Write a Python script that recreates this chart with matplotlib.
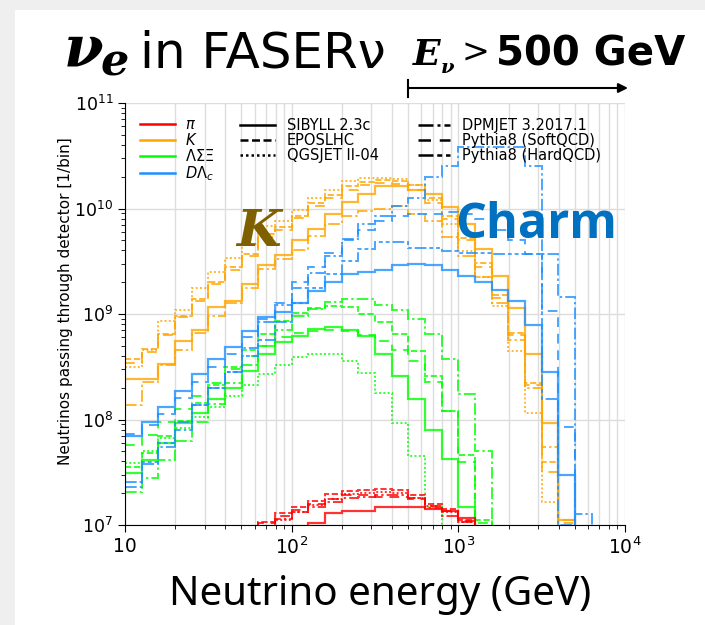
import numpy as np
import matplotlib
matplotlib.use("Agg")
import matplotlib.pyplot as plt
from matplotlib.lines import Line2D
from matplotlib.patches import Rectangle

nan = np.nan
# ---- data: log10(neutrinos per bin), 10 log-bins per decade from 10 GeV to 10 TeV ----
bin_edges = np.logspace(1, 4, 31)

K_sibyll = [8.38, 8.38, 8.53, 8.74, 8.85, 9.07, 9.12, 9.28, 9.46, 9.56, 9.70, 9.81, 9.95, 10.06, 10.14,
            10.21, 10.21, 10.18, 10.14, 10.01, 9.85, 9.62, 9.36, 9.06, 8.62, 7.97, 7.05, nan, nan, nan]
K_epos = [8.57, 8.67, 8.81, 8.98, 9.14, 9.30, 9.45, 9.57, 9.76, 9.82, 9.93, 10.05, 10.13, 10.21, 10.25,
          10.27, 10.26, 10.22, 10.10, 9.93, 9.72, 9.48, 9.18, 8.82, 8.35, 7.60, nan, nan, nan, nan]
K_qgsjet = [8.50, 8.66, 8.93, 9.04, 9.25, 9.40, 9.53, 9.66, 9.83, 9.88, 9.99, 10.10, 10.18, 10.26, 10.29,
            10.29, 10.28, 10.22, 10.08, 9.85, 9.60, 9.35, 9.08, 8.65, 8.06, 7.22, nan, nan, nan, nan]
K_dpmjet = [8.14, 8.36, 8.52, 8.66, 8.82, 8.98, 9.10, 9.25, 9.43, 9.52, 9.61, 9.74, 9.85, 9.93, 9.98,
            10.00, 10.02, 9.95, 9.88, 9.73, 9.55, 9.35, 9.10, 8.75, 8.30, 7.74, 7.05, nan, nan, nan]
K_pysoft = [8.54, 8.64, 8.80, 8.97, 9.12, 9.28, 9.42, 9.55, 9.73, 9.80, 9.91, 10.02, 10.10, 10.18, 10.22,
            10.24, 10.23, 10.18, 10.05, 9.90, 9.70, 9.45, 9.15, 8.80, 8.33, 7.50, 7.02, nan, nan, nan]

D_sibyll = [7.84, 7.98, 8.12, 8.27, 8.43, 8.57, 8.69, 8.84, 8.97, 9.02, 9.10, 9.22, 9.30, 9.38, 9.40,
            9.42, 9.46, 9.47, 9.46, 9.42, 9.36, 9.30, 9.23, 9.12, 8.90, 8.45, 7.47, nan, nan, nan]
D_dpmjet = [7.36, 7.58, 7.74, 7.90, 8.14, 8.30, 8.45, 8.68, 8.92, 9.09, 9.25, 9.39, 9.55, 9.71, 9.85,
            9.93, 10.02, 10.10, 10.30, 10.40, 10.58, 10.58, 10.58, 10.58, 10.40, 9.57, 9.16, 7.10, nan, nan]
D_pysoft = [7.86, 7.95, 8.05, 8.20, 8.36, 8.50, 8.62, 8.78, 8.95, 9.10, 9.30, 9.45, 9.58, 9.70, 9.80,
            9.88, 9.93, 9.95, 9.95, 9.97, 9.95, 9.90, 9.80, 9.70, 9.57, 9.03, 7.93, nan, nan, nan]
D_pyhard = [7.41, 7.60, 7.78, 7.98, 8.14, 8.30, 8.45, 8.60, 8.75, 8.92, 9.10, 9.25, 9.38, 9.50, 9.62,
            9.68, 9.68, 9.63, 9.63, 9.60, 9.58, 9.58, 9.57, 9.57, 9.57, 8.19, 7.00, nan, nan, nan]

L_sibyll = [7.49, 7.62, 7.78, 7.97, 8.06, 8.19, 8.30, 8.46, 8.62, 8.73, 8.79, 8.86, 8.88, 8.85, 8.79,
            8.62, 8.41, 8.19, 7.90, 7.63, 7.17, nan, nan, nan, nan, nan, nan, nan, nan, nan]
L_epos = [7.55, 7.68, 7.84, 7.99, 8.16, 8.33, 8.50, 8.66, 8.81, 8.93, 9.01, 9.06, 9.08, 9.07, 9.00,
          8.92, 8.81, 8.65, 8.41, 8.08, 7.66, 7.05, nan, nan, nan, nan, nan, nan, nan, nan]
L_qgsjet = [7.59, 7.70, 7.82, 7.92, 8.02, 8.12, 8.22, 8.33, 8.43, 8.52, 8.59, 8.62, 8.62, 8.55, 8.44,
            8.25, 7.97, 7.65, 7.17, nan, nan, nan, nan, nan, nan, nan, nan, nan, nan, nan]
L_dpmjet = [7.31, 7.45, 7.62, 7.80, 7.98, 8.15, 8.35, 8.52, 8.70, 8.85, 8.98, 9.05, 9.11, 9.14, 9.14,
            9.09, 9.04, 8.95, 8.81, 8.57, 8.24, 7.70, nan, nan, nan, nan, nan, nan, nan, nan]
L_pysoft = [7.76, 7.85, 7.98, 8.10, 8.22, 8.35, 8.48, 8.60, 8.70, 8.78, 8.82, 8.84, 8.85, 8.84, 8.80,
            8.74, 8.66, 8.55, 8.36, 8.08, 7.60, 7.02, nan, nan, nan, nan, nan, nan, nan, nan]

pi_sibyll = [nan] * 11 + [7.02, 7.11, 7.13, 7.13, 7.17, 7.17, 7.17, 7.15, 7.13, 7.07] + [nan] * 9
pi_epos = [nan] * 8 + [7.03, 7.11, 7.17, 7.23, 7.29, 7.32, 7.33, 7.34, 7.33, 7.28, 7.20, 7.15, 7.05] + [nan] * 9
pi_qgsjet = [nan] * 9 + [7.05, 7.12, 7.19, 7.25, 7.29, 7.30, 7.31, 7.30, 7.26, 7.18, 7.12, 7.03] + [nan] * 9
pi_dpmjet = [nan] * 9 + [7.06, 7.12, 7.17, 7.22, 7.26, 7.27, 7.28, 7.28, 7.26, 7.16, 7.09, 7.03] + [nan] * 9
pi_pysoft = [nan] * 8 + [7.02, 7.09, 7.14, 7.20, 7.25, 7.28, 7.28, 7.27, 7.27, 7.25, 7.18, 7.13, 7.04] + [nan] * 9

particle_labels = [r"$\pi$", r"$K$", r"$\Lambda\Sigma\Xi$", r"$D\Lambda_c$"]
generator_labels = ["SIBYLL 2.3c", "EPOSLHC", "QGSJET II-04",
                    "DPMJET 3.2017.1", "Pythia8 (SoftQCD)", "Pythia8 (HardQCD)"]

colors = {"pi": "red", "K": "orange", "L": "lime", "D": "dodgerblue"}
styles = {
    "sibyll": "-",
    "epos": (0, (3.2, 1.4)),
    "qgsjet": (0, (1, 1.2)),
    "dpmjet": (0, (6, 1.6, 1.2, 1.6)),
    "pysoft": (0, (5, 3.5)),
    "pyhard": (0, (6, 1.5, 2, 1.5, 2, 1.5)),
}
series = [
    ("K", "sibyll", K_sibyll), ("K", "epos", K_epos), ("K", "qgsjet", K_qgsjet),
    ("K", "dpmjet", K_dpmjet), ("K", "pysoft", K_pysoft),
    ("L", "sibyll", L_sibyll), ("L", "epos", L_epos), ("L", "qgsjet", L_qgsjet),
    ("L", "dpmjet", L_dpmjet), ("L", "pysoft", L_pysoft),
    ("D", "sibyll", D_sibyll), ("D", "dpmjet", D_dpmjet), ("D", "pysoft", D_pysoft),
    ("D", "pyhard", D_pyhard),
    ("pi", "sibyll", pi_sibyll), ("pi", "epos", pi_epos), ("pi", "qgsjet", pi_qgsjet),
    ("pi", "dpmjet", pi_dpmjet), ("pi", "pysoft", pi_pysoft),
]

W, H = 705, 625
fig = plt.figure(figsize=(W / 100, H / 100), dpi=100)
fig.patch.set_facecolor("white")
fig.add_artist(Rectangle((0, 0), 15 / W, 1, transform=fig.transFigure, color="#efefef", lw=0, zorder=-5))
fig.add_artist(Rectangle((0, 1 - 10 / H), 1, 10 / H, transform=fig.transFigure, color="#efefef", lw=0, zorder=-5))


def fx(x):
    return x / W


def fy(y):
    return 1 - y / H


ax = fig.add_axes([125 / W, 1 - 525 / H, 500 / W, 422 / H])
ax.set_xscale("log")
ax.set_yscale("log")
ax.set_xlim(10, 1e4)
ax.set_ylim(1e7, 1e11)
ax.grid(True, which="major", axis="both", color="#dddddd", lw=1)
ax.grid(True, which="minor", axis="x", color="#dddddd", lw=1)
ax.set_axisbelow(True)

for part, gen, vals in series:
    v = 10 ** np.array(vals, dtype=float)
    v = np.where(np.isnan(v), 1e5, v)
    lw = 1.6 if gen == "sibyll" else 1.4
    ax.stairs(v, bin_edges, baseline=None, color=colors[part], ls=styles[gen], lw=lw, alpha=0.8)

for s in ["top", "right"]:
    ax.spines[s].set_visible(False)
ax.tick_params(axis="y", which="major", labelsize=12.5, length=5)
ax.tick_params(axis="x", which="major", labelsize=13.5, length=5)
ax.tick_params(axis="both", which="minor", length=3)
ax.set_xticks([10, 100, 1000, 10000])
ax.set_xticklabels(["10", "$10^2$", "$10^3$", "$10^4$"])
ax.set_ylabel("Neutrinos passing through detector [1/bin]", fontsize=11, labelpad=6)
ax.yaxis.set_label_coords(-0.104, 0.53)

# legends (three columns)
leg_kw = dict(loc="upper left", bbox_transform=fig.transFigure, frameon=False, fontsize=10.5,
              borderpad=0, borderaxespad=0, labelspacing=0.0)
h1 = [Line2D([], [], color=colors[p], lw=1.8) for p in ["pi", "K", "L", "D"]]
leg1 = ax.legend(h1, particle_labels, bbox_to_anchor=(fx(140), fy(117)), handlelength=2.4,
                 handletextpad=0.7, **leg_kw)
ax.add_artist(leg1)
h2 = [Line2D([], [], color="k", lw=1.8, ls=styles[g]) for g in ["sibyll", "epos", "qgsjet"]]
leg2 = ax.legend(h2, generator_labels[:3], bbox_to_anchor=(fx(240), fy(118)), handlelength=2.4,
                 handletextpad=0.8, **leg_kw)
ax.add_artist(leg2)
h3 = [Line2D([], [], color="k", lw=1.8, ls=styles[g]) for g in ["dpmjet", "pysoft", "pyhard"]]
ax.legend(h3, generator_labels[3:], bbox_to_anchor=(fx(418), fy(118)), handlelength=2.2,
          handletextpad=0.8, **leg_kw)

# title pieces
fig.text(fx(64), fy(66), "ν", fontfamily="DejaVu Serif", fontweight="bold", fontstyle="italic",
         fontsize=41, va="baseline", ha="left")
fig.text(fx(101), fy(76), "e", fontfamily="DejaVu Serif", fontweight="bold", fontstyle="italic",
         fontsize=32, va="baseline", ha="left")
fig.text(fx(140), fy(68), "in FASERν", fontfamily="DejaVu Sans", fontsize=36, va="baseline", ha="left")
fig.text(fx(413), fy(65), "E", fontfamily="DejaVu Serif", fontweight="bold", fontstyle="italic",
         fontsize=26, va="baseline", ha="left")
fig.text(fx(441), fy(73), "ν", fontfamily="DejaVu Serif", fontweight="bold", fontstyle="italic",
         fontsize=14, va="baseline", ha="left")
fig.text(fx(462), fy(63), ">", fontfamily="DejaVu Serif", fontsize=24, va="baseline", ha="left")
fig.text(fx(496), fy(65), "500 GeV", fontfamily="DejaVu Sans", fontweight="bold", fontsize=29,
         va="baseline", ha="left")
fig.add_artist(Line2D([fx(408), fx(408)], [fy(80), fy(97)], transform=fig.transFigure, color="k", lw=1.5))
ax.annotate("", xy=(628, H - 88), xytext=(408, H - 88), xycoords="figure pixels",
            textcoords="figure pixels",
            arrowprops=dict(arrowstyle="-|>", lw=1.5, color="k", mutation_scale=14, shrinkA=0, shrinkB=0))

fig.text(fx(236), fy(246), "K", fontfamily="DejaVu Serif", fontweight="bold", fontstyle="italic",
         fontsize=37, color="#7f6000", va="baseline", ha="left")
fig.text(fx(455), fy(238), "Charm", fontfamily="Open Sans", fontweight="bold", fontsize=35,
         color="#0070c0", va="baseline", ha="left")
fig.text(fx(380), fy(605), "Neutrino energy (GeV)", fontfamily="Noto Sans", fontsize=29,
         va="baseline", ha="center")

fig.savefig("out.png", dpi=100)
